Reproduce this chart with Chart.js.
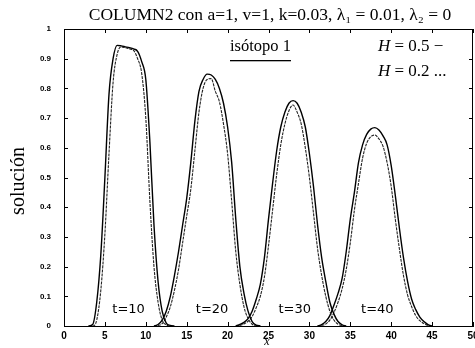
<!DOCTYPE html>
<html>
<head>
<meta charset="utf-8">
<script src="https://cdn.jsdelivr.net/npm/chart.js@4.4.1/dist/chart.umd.min.js"></script>
<style>
  body { margin: 0; background: #fff; }
  canvas { display: block; }
</style>
</head>
<body>
<canvas id="chart" width="475" height="348"></canvas>
<script>
// x positions for each pulse
const x_t10 = [3.0, 3.5, 4.0, 4.5, 5.0, 5.5, 6.0, 6.5, 7.0, 7.5, 8.0, 8.5, 9.0, 9.5, 10.0, 10.5, 11.0, 11.5, 12.0, 12.5, 13.0, 13.5];
const x_t20 = [11.0, 11.5, 12.0, 12.5, 13.0, 13.5, 14.0, 14.5, 15.0, 15.5, 16.0, 16.5, 17.0, 17.5, 18.0, 18.5, 19.0, 19.5, 20.0, 20.5, 21.0, 21.5, 22.0, 22.5, 23.0, 23.5, 24.0];
const x_t30 = [21.0, 21.5, 22.0, 22.5, 23.0, 23.5, 24.0, 24.5, 25.0, 25.5, 26.0, 26.5, 27.0, 27.5, 28.0, 28.5, 29.0, 29.5, 30.0, 30.5, 31.0, 31.5, 32.0, 32.5, 33.0, 33.5, 34.0, 34.5];
const x_t40 = [31.0, 31.5, 32.0, 32.5, 33.0, 33.5, 34.0, 34.5, 35.0, 35.5, 36.0, 36.5, 37.0, 37.5, 38.0, 38.5, 39.0, 39.5, 40.0, 40.5, 41.0, 41.5, 42.0, 42.5, 43.0, 43.5, 44.0, 44.5, 45.0];

// H = 0.5 (solid)
const h05_t10 = [0, 0.005, 0.08, 0.24, 0.50, 0.78, 0.90, 0.945, 0.943, 0.94, 0.937, 0.933, 0.925, 0.89, 0.83, 0.62, 0.34, 0.15, 0.05, 0.01, 0.002, 0];
const h05_t20 = [0, 0.005, 0.02, 0.05, 0.10, 0.17, 0.25, 0.34, 0.43, 0.55, 0.69, 0.79, 0.83, 0.848, 0.845, 0.83, 0.80, 0.75, 0.67, 0.55, 0.36, 0.20, 0.11, 0.05, 0.015, 0.003, 0];
const h05_t30 = [0, 0.005, 0.012, 0.025, 0.05, 0.09, 0.14, 0.23, 0.36, 0.48, 0.59, 0.67, 0.72, 0.75, 0.759, 0.75, 0.72, 0.67, 0.58, 0.47, 0.34, 0.23, 0.15, 0.08, 0.04, 0.015, 0.004, 0];
const h05_t40 = [0, 0.005, 0.015, 0.035, 0.07, 0.11, 0.16, 0.25, 0.36, 0.45, 0.55, 0.61, 0.645, 0.663, 0.668, 0.66, 0.64, 0.61, 0.54, 0.44, 0.33, 0.23, 0.15, 0.09, 0.055, 0.03, 0.015, 0.005, 0];

// H = 0.2 (dotted), a little narrower and lower
const h02_t10 = [0, 0, 0.02, 0.12, 0.31, 0.58, 0.82, 0.915, 0.94, 0.937, 0.933, 0.928, 0.90, 0.85, 0.70, 0.42, 0.20, 0.08, 0.02, 0.004, 0, 0];
const h02_t20 = [0, 0.002, 0.008, 0.03, 0.065, 0.12, 0.19, 0.28, 0.37, 0.46, 0.59, 0.72, 0.80, 0.83, 0.833, 0.79, 0.755, 0.68, 0.58, 0.42, 0.25, 0.14, 0.065, 0.025, 0.006, 0, 0];
const h02_t30 = [0, 0.002, 0.007, 0.016, 0.032, 0.062, 0.10, 0.165, 0.27, 0.39, 0.51, 0.61, 0.68, 0.725, 0.744, 0.72, 0.68, 0.60, 0.50, 0.38, 0.26, 0.17, 0.10, 0.05, 0.02, 0.006, 0.001, 0];
const h02_t40 = [0, 0.002, 0.007, 0.02, 0.045, 0.08, 0.125, 0.19, 0.28, 0.39, 0.48, 0.565, 0.615, 0.637, 0.643, 0.63, 0.605, 0.55, 0.47, 0.36, 0.26, 0.17, 0.105, 0.065, 0.035, 0.018, 0.008, 0.002, 0];

const xTickLabels = ["0", "5", "10", "15", "20", "25", "30", "35", "40", "45", "50"];
const yTickLabels = ["0", "0.1", "0.2", "0.3", "0.4", "0.5", "0.6", "0.7", "0.8", "0.9", "1"];
const pulseLabels = ["t=10", "t=20", "t=30", "t=40"];
const pulseLabelX = [7.9, 18.1, 28.2, 38.3];

function toPoints(xs, ys) {
    return xs.map((x, i) => ({ x: x, y: ys[i] }));
}

function solid(xs, ys) {
    return {
        data: toPoints(xs, ys),
        borderColor: "#000",
        borderWidth: 1.4,
        pointRadius: 0,
        cubicInterpolationMode: "monotone",
        fill: false,
    };
}

function dotted(xs, ys) {
    return {
        data: toPoints(xs, ys),
        borderColor: "#222",
        borderWidth: 1.1,
        borderDash: [3, 1],
        pointRadius: 0,
        cubicInterpolationMode: "monotone",
        fill: false,
    };
}

const serif = "'Liberation Serif', 'DejaVu Serif', serif";

// frame, inward ticks and all the annotation text
const decorations = {
    id: "decorations",
    afterDraw(chart) {
        const { ctx, chartArea: a, scales } = chart;
        const x = scales.x, y = scales.y;
        ctx.save();
        ctx.strokeStyle = "#000";
        ctx.lineWidth = 1;
        ctx.beginPath();
        ctx.moveTo(a.left, a.top + 0.5);
        ctx.lineTo(a.right, a.top + 0.5);
        ctx.moveTo(a.right - 0.5, a.top);
        ctx.lineTo(a.right - 0.5, a.bottom);
        xTickLabels.forEach(t => {
            const px = Math.round(x.getPixelForValue(+t)) + 0.5;
            ctx.moveTo(px, a.bottom);
            ctx.lineTo(px, a.bottom - 4);
            ctx.moveTo(px, a.top);
            ctx.lineTo(px, a.top + 4);
        });
        yTickLabels.forEach(t => {
            const py = Math.round(y.getPixelForValue(+t)) + 0.5;
            ctx.moveTo(a.left, py);
            ctx.lineTo(a.left + 4, py);
            ctx.moveTo(a.right, py);
            ctx.lineTo(a.right - 4, py);
        });
        ctx.stroke();

        ctx.fillStyle = "#000";
        ctx.textBaseline = "middle";

        // title
        ctx.textAlign = "center";
        ctx.font = "17.5px " + serif;
        ctx.fillText("COLUMN2 con a=1, v=1, k=0.03, λ\u2081 = 0.01, λ\u2082 = 0", 270, 15);

        // y axis title
        ctx.save();
        ctx.translate(19, 181);
        ctx.rotate(-Math.PI / 2);
        ctx.font = "20px " + serif;
        ctx.fillText("solución", 0, 0);
        ctx.restore();

        // x axis title
        ctx.font = "italic 12px " + serif;
        ctx.fillText("x", 267, 342);

        // isótopo 1
        ctx.textAlign = "left";
        ctx.font = "16.5px " + serif;
        ctx.fillText("isótopo 1", 230, 47);
        const w = ctx.measureText("isótopo 1").width;
        ctx.fillRect(230, 60, w, 1.3);

        // legend
        [["0.5 \u2212", 47], ["0.2 ...", 72]].forEach(([txt, py]) => {
            ctx.font = "italic 17px " + serif;
            ctx.fillText("H", 378, py);
            const hw = ctx.measureText("H").width;
            ctx.font = "17px " + serif;
            ctx.fillText(" = " + txt, 378 + hw, py);
        });

        // pulse labels
        ctx.textAlign = "center";
        ctx.font = "13px 'DejaVu Sans', sans-serif";
        pulseLabels.forEach((lbl, i) => {
            ctx.fillText(lbl, x.getPixelForValue(pulseLabelX[i]), y.getPixelForValue(0.054));
        });
        ctx.restore();
    }
};

new Chart(document.getElementById("chart"), {
    type: "line",
    data: {
        datasets: [
            solid(x_t10, h05_t10), dotted(x_t10, h02_t10),
            solid(x_t20, h05_t20), dotted(x_t20, h02_t20),
            solid(x_t30, h05_t30), dotted(x_t30, h02_t30),
            solid(x_t40, h05_t40), dotted(x_t40, h02_t40),
        ],
    },
    options: {
        responsive: false,
        animation: false,
        devicePixelRatio: 1,
        layout: { padding: { top: 29, right: 2, left: 0, bottom: 0 } },
        plugins: { legend: { display: false }, tooltip: { enabled: false } },
        scales: {
            x: {
                type: "linear",
                min: 0,
                max: 50,
                afterBuildTicks: s => { s.ticks = xTickLabels.map(v => ({ value: +v })); },
                ticks: {
                    callback: (v, i) => xTickLabels[i],
                    color: "#000",
                    font: { family: "'Liberation Sans', Arial, sans-serif", size: 10, weight: "bold" },
                    padding: 4,
                    maxRotation: 0,
                },
                grid: { display: false, drawTicks: false },
                border: { display: true, color: "#000", width: 1 },
                afterFit: s => { s.height = 22; s.paddingLeft = 0; s.paddingRight = 0; },
            },
            y: {
                min: 0,
                max: 1,
                afterBuildTicks: s => { s.ticks = yTickLabels.map(v => ({ value: +v })); },
                ticks: {
                    callback: (v, i) => yTickLabels[i],
                    color: "#000",
                    font: { family: "'Liberation Sans', Arial, sans-serif", size: 8, weight: "bold" },
                    padding: 13,
                },
                grid: { display: false, drawTicks: false },
                border: { display: true, color: "#000", width: 1 },
                afterFit: s => { s.width = 64; s.paddingTop = 0; s.paddingBottom = 0; },
            },
        },
    },
    plugins: [decorations],
});
</script>
</body>
</html>
